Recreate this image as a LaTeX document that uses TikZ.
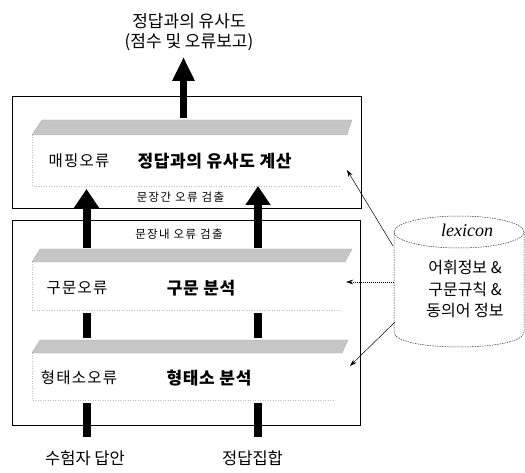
\documentclass[tikz,border=0pt]{standalone}
\usepackage{fontspec}
\setmainfont{Liberation Serif}
\newfontfamily\kr{Noto Sans CJK KR}
\newfontfamily\krw[LetterSpace=8]{Noto Sans CJK KR}
\newfontfamily\krb[LetterSpace=4]{Noto Sans CJK KR}
\newfontfamily\krs[LetterSpace=12]{Noto Sans CJK KR}
\usetikzlibrary{arrows.meta}
\begin{document}
\begin{tikzpicture}[x=1pt,y=-1pt,
  box/.style={draw=black, line width=0.9pt},
  band/.style={fill=gray!45, draw=gray!65, line width=0.3pt},
  face/.style={draw=gray!50, dotted, line width=0.5pt},
  lbl/.style={inner sep=0pt, font=\krw\fontsize{15.5}{18}\selectfont},
  boldlbl/.style={inner sep=0pt, font=\krb\bfseries\fontsize{17}{20}\selectfont},
  smalllbl/.style={inner sep=0pt, font=\krs\fontsize{11.5}{13}\selectfont},
  iolbl/.style={inner sep=0pt, font=\kr\fontsize{16.5}{19}\selectfont},
  flow/.style={line width=8pt},
  bigtip/.style={-{Triangle[width=24pt,length=19pt]}},
  ptr/.style={-{Stealth[length=7pt,width=4.5pt]}, line width=0.5pt},
  cyl/.style={draw=black!80, line width=0.5pt, dash pattern=on 1.5pt off 1pt}]
\useasboundingbox (0,0) rectangle (525,473);

% boxes
\draw[box] (12,96) rectangle (361,208);
\draw[box] (12,220) rectangle (360,425);

% slab faces
\draw[face] (32,135) -- (32,186) -- (340,186);
\draw[face] (32,262) -- (32,310) -- (340,310);
\draw[face] (32,353) -- (32,400) -- (335,400);

% bands
\draw[band] (42,120) -- (352,120) -- (347,135) -- (32,135) -- cycle;
\draw[band] (40,249) -- (352,249) -- (345,262) -- (32,262) -- cycle;
\draw[band] (40,340) -- (348,340) -- (342,353) -- (32,353) -- cycle;

% texts
\node[align=center, inner sep=0pt, font=\kr\fontsize{17}{19.5}\selectfont] (title) at (189,32) {정답과의 유사도\\(점수 및 오류보고)};
\node[lbl] (mapErr) at (79,161) {매핑오류};
\node[boldlbl] (sim) at (214.5,161) {정답과의 유사도 계산};
\node[smalllbl] (inter) at (180.5,197) {문장간 오류 검출};
\node[smalllbl] (intra) at (179,234) {문장내 오류 검출};
\node[lbl] (synErr) at (77,288) {구문오류};
\node[boldlbl] (syn) at (201,288) {구문 분석};
\node[lbl] (morErr) at (79,378) {형태소오류};
\node[boldlbl] (mor) at (209,378) {형태소 분석};
\node[iolbl] (ans) at (85,458) {수험자 답안};
\node[iolbl] (gold) at (252.5,458) {정답집합};

% flow coordinates
\coordinate (a0) at (86.5,437); \coordinate (a1) at (86.5,403);
\coordinate (a2) at (86.5,338); \coordinate (a3) at (86.5,313);
\coordinate (a4) at (86.5,248); \coordinate (a5) at (86.5,189);
\coordinate (b0) at (258,437); \coordinate (b1) at (258,403);
\coordinate (b2) at (258,338); \coordinate (b3) at (258,313);
\coordinate (b4) at (258,248); \coordinate (b5) at (258,186);
\coordinate (t0) at (183.5,118); \coordinate (t1) at (183.5,57);

\draw[flow] (a0) -- (a1);
\draw[flow] (a2) -- (a3);
\draw[flow, bigtip] (a4) -- (a5);
\draw[flow] (b0) -- (b1);
\draw[flow] (b2) -- (b3);
\draw[flow, bigtip] (b4) -- (b5);
\draw[line width=7pt, -{Triangle[width=21pt,length=24pt]}] (t0) -- (t1);

% cylinder
\draw[cyl] (459,232) ellipse [x radius=65pt, y radius=16pt];
\draw[cyl] (394,232) -- (394,332) .. controls (394,352) and (524,352) .. (524,332) -- (524,232);
\node[inner sep=0pt, font=\itshape\fontsize{18}{20}\selectfont] (lex) at (467,230) {lexicon};
\node[align=center, inner sep=0pt, font=\kr\fontsize{16}{21.5}\selectfont] (lexinfo) at (465,289) {어휘정보 \&\\구문규칙 \&\\동의어 정보};

% pointers
\coordinate (c1) at (393,246); \coordinate (d1) at (347,170);
\coordinate (c2) at (394,282); \coordinate (d2) at (346,282);
\coordinate (c3) at (395,322); \coordinate (d3) at (350,366);
\draw[ptr] (c1) -- (d1);
\draw[ptr, dash pattern=on 1pt off 1pt] (c2) -- (d2);
\draw[ptr] (c3) -- (d3);
\end{tikzpicture}
\end{document}
